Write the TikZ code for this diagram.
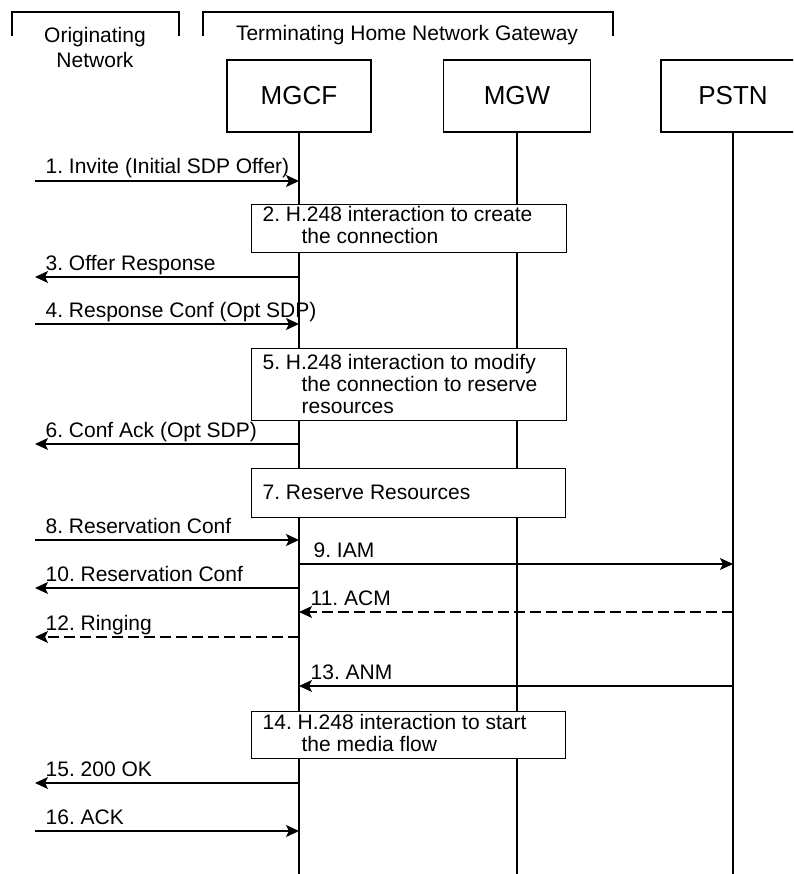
\documentclass[tikz,border=0pt]{standalone}
\usepackage{fontspec}
\setmainfont{Liberation Sans}
\usetikzlibrary{arrows.meta}
\begin{document}
\frenchspacing
\begin{tikzpicture}[x=1pt,y=-1pt,line width=1.3pt,
  ent/.style={draw,fill=white,minimum width=144pt,minimum height=72pt,font=\fontsize{26}{28}\selectfont},
  actbox/.style={draw,fill=white,anchor=north west,inner sep=0pt},
  bt/.style={anchor=base west,inner sep=0pt,font=\fontsize{21}{24}\selectfont},
  hdr/.style={font=\fontsize{21}{25}\selectfont,align=center},
  lbl/.style={anchor=base west,inner sep=0pt,font=\fontsize{21}{24}\selectfont},
  msg/.style={-{Stealth[length=13pt,width=12pt,inset=3pt]}},
  rsp/.style={msg,dash pattern=on 11pt off 5pt}]
\useasboundingbox (0,0) rectangle (793,874);
\clip (0,0) rectangle (793,874);
% headers
\draw (12,36) -- (12,12) -- (179,12) -- (179,36);
\draw (203,36) -- (203,12) -- (613,12) -- (613,36);
\node[hdr] (orig) at (95,47) {Originating\\Network};
\node[hdr] (term) at (407,35) {Terminating Home Network Gateway};
% entities
\node[ent] (mgcf) at (299,96) {MGCF};
\node[ent,minimum width=147pt] (mgw) at (517,96) {MGW};
\node[ent] (pstn) at (733,96) {PSTN};
\coordinate (mgcfE) at (299,874);
\coordinate (mgwE) at (517,874);
\coordinate (pstnE) at (733,874);
\draw (mgcf.south) -- (mgcfE);
\draw (mgw.south) -- (mgwE);
\draw (pstn.south) -- (pstnE);
% left ends
\foreach \n/\y in {1/181,3/277,4/324,6/444,8/540,10/588,12/637,15/783,16/831}
  \coordinate (L\n) at (35,\y);
\foreach \n/\y in {9/564,11/612,13/686}
  \coordinate (R\n) at (733,\y);
% boxes
\node[actbox,minimum width=315pt,minimum height=48pt] (b2) at (251,204) {};
\node[bt] (t2a) at (262,222) {2. H.248 interaction to create};
\node[bt] (t2b) at (301,244) {the connection};
\node[actbox,minimum width=315pt,minimum height=72pt] (b5) at (251,348) {};
\node[bt] (t5a) at (262,369) {5. H.248 interaction to modify};
\node[bt] (t5b) at (301,391) {the connection to reserve};
\node[bt] (t5c) at (301,413) {resources};
\node[actbox,minimum width=314pt,minimum height=49pt] (b7) at (251,468) {};
\node[bt] (t7) at (262,499) {7. Reserve Resources};
\node[actbox,minimum width=314pt,minimum height=47pt] (b14) at (251,711) {};
\node[bt] (t14a) at (262,729) {14. H.248 interaction to start};
\node[bt] (t14b) at (301,751) {the media flow};
% messages
\draw[msg] (L1) -- (L1 -| mgcf) node[lbl] (m1) at (45,174) {1. Invite (Initial SDP Offer)};
\draw[msg] (L3 -| mgcf) -- (L3) node[lbl] (m3) at (45,270) {3. Offer Response};
\draw[msg] (L4) -- (L4 -| mgcf) node[lbl] (m4) at (45,317) {4. Response Conf (Opt SDP)};
\draw[msg] (L6 -| mgcf) -- (L6) node[lbl] (m6) at (45,437) {6. Conf Ack (Opt SDP)};
\draw[msg] (L8) -- (L8 -| mgcf) node[lbl] (m8) at (45,533) {8. Reservation Conf};
\draw[msg] (R9 -| mgcf) -- (R9) node[lbl] (m9) at (313,557) {9. IAM};
\draw[msg] (L10 -| mgcf) -- (L10) node[lbl] (m10) at (45,581) {10. Reservation Conf};
\draw[rsp] (R11) -- (R11 -| mgcf) node[lbl] (m11) at (310,605) {11. ACM};
\draw[rsp] (L12 -| mgcf) -- (L12) node[lbl] (m12) at (45,630) {12. Ringing};
\draw[msg] (R13) -- (R13 -| mgcf) node[lbl] (m13) at (310,679) {13. ANM};
\draw[msg] (L15 -| mgcf) -- (L15) node[lbl] (m15) at (45,776) {15. 200 OK};
\draw[msg] (L16) -- (L16 -| mgcf) node[lbl] (m16) at (45,824) {16. ACK};
\end{tikzpicture}
\end{document}
